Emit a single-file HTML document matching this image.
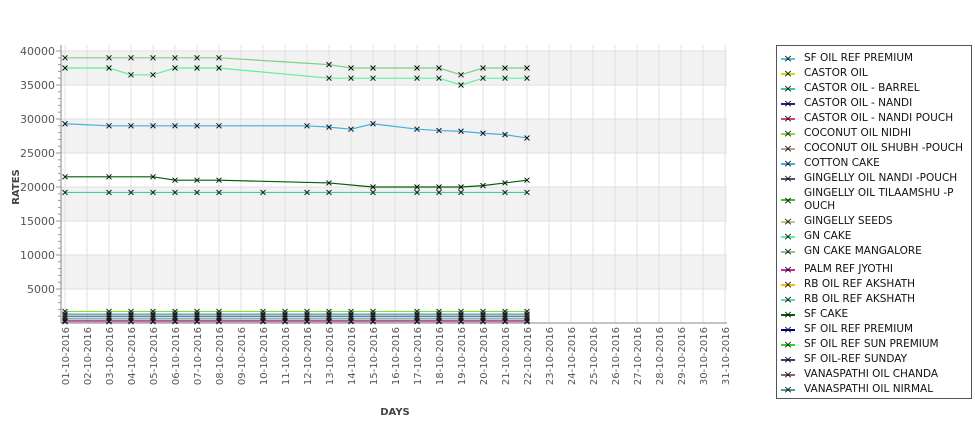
<!DOCTYPE html>
<html><head><meta charset="utf-8"><style>
body{margin:0;background:#fff;width:975px;height:429px;overflow:hidden;font-family:"DejaVu Sans","Liberation Sans",sans-serif}
#legend{position:absolute;left:776px;top:45px;width:196px;height:354px;border:1px solid #555;box-sizing:border-box;font-size:10.5px;color:#111}
.li{position:absolute;left:4px;display:flex;align-items:center}
.li .m{width:14px;text-align:center;font-size:11px;margin-right:9px;position:relative}
.li .m span{position:absolute;left:0;right:0;top:50%;height:2px;margin-top:-1px}
</style></head><body>
<svg id="chart" width="975" height="429" style="position:absolute;left:0;top:0" font-family="DejaVu Sans, Liberation Sans, sans-serif"></svg>
<div id="legend"></div>
<script>
const days=["01","02","03","04","05","06","07","08","09","10","11","12","13","14","15","16","17","18","19","20","21","22","23","24","25","26","27","28","29","30","31"];
const yTicks=[5000,10000,15000,20000,25000,30000,35000,40000];
const seriesNames=[" SF OIL REF PREMIUM","CASTOR OIL","CASTOR OIL - BARREL","CASTOR OIL - NANDI","CASTOR OIL - NANDI POUCH","COCONUT OIL NIDHI","COCONUT OIL SHUBH -POUCH","COTTON CAKE","GINGELLY OIL NANDI -POUCH","GINGELLY OIL TILAAMSHU -P|OUCH","GINGELLY SEEDS","GN CAKE","GN CAKE MANGALORE","PALM REF JYOTHI","RB OIL REF  AKSHATH","RB OIL REF AKSHATH","SF CAKE","SF OIL REF PREMIUM","SF OIL REF SUN PREMIUM","SF OIL-REF SUNDAY","VANASPATHI OIL CHANDA","VANASPATHI OIL NIRMAL"];
const seriesColors=["#5bc0de","#c8e000","#40c8a0","#202080","#e04070","#80e040","#c0a090","#40b0e0","#505080","#40c020","#b0d080","#60f0a0","#80d080","#e020a0","#f0c000","#60e0a0","#006000","#0000a0","#20e020","#404080","#906080","#40a0a0"];
// top series: [day index, value]
const gnMangDays=[1,3,4,5,6,7,8,13,14,15,17,18,19,20,21,22];
const gnMangVals=[39000,39000,39000,39000,39000,39000,39000,38000,37500,37500,37500,37500,36500,37500,37500,37500];
const gnCakeDays=[1,3,4,5,6,7,8,13,14,15,17,18,19,20,21,22];
const gnCakeVals=[37500,37500,36500,36500,37500,37500,37500,36000,36000,36000,36000,36000,35000,36000,36000,36000];
const cottonDays=[1,3,4,5,6,7,8,12,13,14,15,17,18,19,20,21,22];
const cottonVals=[29300,29000,29000,29000,29000,29000,29000,29000,28800,28500,29300,28500,28300,28200,27900,27700,27200];
const sfCakeDays=[1,3,5,6,7,8,13,15,17,18,19,20,21,22];
const sfCakeVals=[21500,21500,21500,21000,21000,21000,20600,20000,20000,20000,20000,20200,20600,21000];
const rbDays=[1,3,4,5,6,7,8,10,12,13,15,17,18,19,21,22];
const rbVals=[19200,19200,19200,19200,19200,19200,19200,19200,19200,19200,19200,19200,19200,19200,19200,19200];
const lowDays=[1,3,4,5,6,7,8,10,11,12,13,14,15,17,18,19,20,21,22];
const lowLevels=[1700,1300,1000,700,400,200];
const lowColors=["#80e040","#40a0a0","#505080","#40c8a0","#e020a0","#909090"];

const svg=document.getElementById('chart');const NS="http://www.w3.org/2000/svg";
const L=65,R=727,T=51,B=323,step=22;
const xs=d=>L+(d-1)*step, ys=v=>B-(v/40000)*(B-T);
function mk(t,a,p){const e=document.createElementNS(NS,t);for(const k in a)e.setAttribute(k,a[k]);(p||svg).appendChild(e);return e;}
// bands
for(let i=0;i<4;i++){const top=40000-i*10000;const r=mk('rect',{x:61,y:ys(top),width:R-61,height:ys(top-5000)-ys(top),fill:'#f2f2f2'});}
yTicks.forEach(v=>{const l=mk('line',{x1:61,x2:R,y1:ys(v),y2:ys(v),stroke:'#e0e0e0'});});
days.forEach((d,i)=>{const x=xs(i+1);const l=mk('line',{x1:x,x2:x,y1:T-6,y2:B,stroke:'#e0e0e0'});
 const t=mk('text',{x:0,y:0,'font-size':10,fill:'#555','text-anchor':'end',transform:`translate(${x+4},327) rotate(-90)`});t.textContent=d+"-10-2016";});
// axes
let ax=mk('line',{x1:61,x2:61,y1:T-6,y2:B,stroke:'#888'});
ax=mk('line',{x1:61,x2:R,y1:B,y2:B,stroke:'#888'});
for(let v=1000;v<=40000;v+=1000){const l=mk('line',{x1:v%5000?58:56,x2:61,y1:ys(v),y2:ys(v),stroke:'#999'});}
yTicks.forEach(v=>{const t=mk('text',{x:55,y:ys(v)+4,'font-size':11,fill:'#555','text-anchor':'end'});t.textContent=v;});
let t=mk('text',{x:0,y:0,'font-size':10,'font-weight':'bold',fill:'#444','text-anchor':'middle',transform:'translate(19,187) rotate(-90)'});t.textContent='RATES';
t=mk('text',{x:395,y:415,'font-size':10,'font-weight':'bold',fill:'#444','text-anchor':'middle'});t.textContent='DAYS';
function series(dd,vv,color,name){const g=mk('g',{});
 mk('polyline',{points:dd.map((d,i)=>xs(d)+','+ys(vv[i])).join(' '),fill:'none',stroke:color,'stroke-width':1.2},g);
 dd.forEach((d,i)=>{const x=xs(d),y=ys(vv[i]);const p=mk('path',{d:`M${x-2.5},${y-2.5}L${x+2.5},${y+2.5}M${x-2.5},${y+2.5}L${x+2.5},${y-2.5}`,stroke:'#111','stroke-width':1},g);});}
lowLevels.forEach((lv,i)=>series(lowDays,lowDays.map(()=>lv),lowColors[i],'series-low-'+i));
series(rbDays,rbVals,'#40d0a0','series-rb-oil-ref-akshath');
series(sfCakeDays,sfCakeVals,'#006000','series-sf-cake');
series(cottonDays,cottonVals,'#40b0e0','series-cotton-cake');
series(gnCakeDays,gnCakeVals,'#60f0a0','series-gn-cake');
series(gnMangDays,gnMangVals,'#80d080','series-gn-cake-mangalore');
// legend
const lg=document.getElementById('legend');let y=6;
seriesNames.forEach((n,i)=>{const two=n.includes('|');const d=document.createElement('div');d.className='li';d.style.top=y+'px';
 
 d.innerHTML=`<div class="m"><span style="background:${seriesColors[i]}"></span><b style="position:relative;font-weight:normal">×</b></div><div style="line-height:13px">${n.replace('|','<br>')}</div>`;
 lg.appendChild(d);y+=two?28:15;if(i==12)y+=3;});
</script></body></html>
